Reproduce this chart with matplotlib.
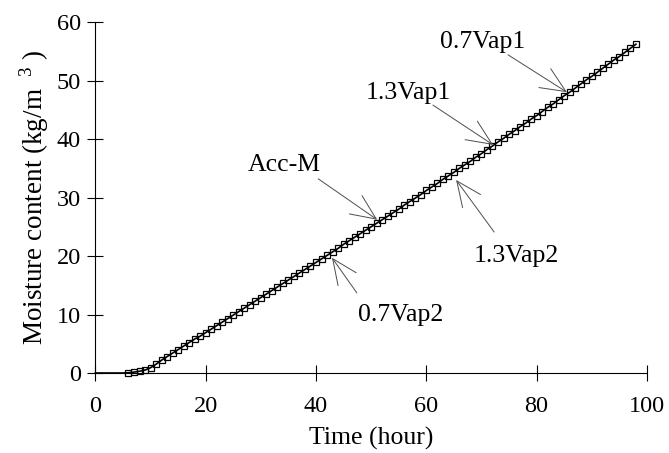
import numpy as np
import matplotlib
matplotlib.use('Agg')
import matplotlib.pyplot as plt

plt.rcParams['font.family'] = ['Liberation Serif', 'DejaVu Serif']
plt.rcParams['mathtext.fontset'] = 'custom'
plt.rcParams['mathtext.rm'] = 'Liberation Serif'

# moisture content, one value per hour
time_h = list(range(0, 99))
moisture = [
    0.0, 0.0, 0.0, 0.0, 0.0, 0.0, 0.05, 0.15, 0.3, 0.5,
    0.9, 1.5, 2.2, 2.8, 3.4, 4.0, 4.6, 5.2, 5.8, 6.3,
    6.9, 7.5, 8.1, 8.7, 9.3, 9.9, 10.5, 11.1, 11.7, 12.3,
    12.9, 13.5, 14.1, 14.7, 15.3, 15.9, 16.5, 17.1, 17.7, 18.3,
    18.9, 19.5, 20.1, 20.7, 21.3, 22.0, 22.6, 23.2, 23.8, 24.4,
    25.0, 25.6, 26.2, 26.8, 27.4, 28.0, 28.7, 29.3, 29.9, 30.5,
    31.2, 31.8, 32.4, 33.1, 33.7, 34.3, 35.0, 35.6, 36.2, 36.9,
    37.5, 38.2, 38.8, 39.5, 40.1, 40.8, 41.4, 42.1, 42.7, 43.4,
    44.0, 44.7, 45.4, 46.0, 46.7, 47.4, 48.0, 48.7, 49.4, 50.1,
    50.7, 51.4, 52.1, 52.8, 53.5, 54.1, 54.8, 55.5, 56.2,
]

labels = ['0.7Vap1', '1.3Vap1', 'Acc-M', '0.7Vap2', '1.3Vap2']
label_xy = [(70.3, 56.6), (56.7, 47.9), (34.2, 35.6), (55.4, 9.9), (76.4, 20.0)]
arrow_tail = [(74.8, 54.4), (61.2, 45.8), (40.4, 33.2), (47.4, 13.7), (72.3, 24.1)]
arrow_tip = [(85.5, 48.0), (72.1, 39.0), (51.1, 26.2), (42.9, 19.7), (65.4, 33.0)]

fig = plt.figure(figsize=(6.69, 4.53), dpi=100)
ax = fig.add_axes([0.1426, 0.1766, 0.967 - 0.1426, 0.9514 - 0.1766])

ax.plot(time_h, moisture, color='black', lw=1.2, marker='s', markersize=4.5,
        markerfacecolor='none', markeredgecolor='black', markeredgewidth=0.9,
        markevery=list(range(6, len(time_h))), clip_on=False)

for txt, pos, tail, tip in zip(labels, label_xy, arrow_tail, arrow_tip):
    ax.text(pos[0], pos[1], txt, fontsize=18.5, ha='center', va='center')
    ax.annotate('', xy=tip, xytext=tail,
                arrowprops=dict(arrowstyle='->,head_length=1.8,head_width=0.8',
                                mutation_scale=10, lw=0.7, color='0.3',
                                shrinkA=0, shrinkB=0))

ax.set_xlim(0, 100)
ax.set_ylim(0, 60)
ax.set_xticks([0, 20, 40, 60, 80, 100])
ax.set_yticks([0, 10, 20, 30, 40, 50, 60])
ax.spines['top'].set_visible(False)
ax.spines['right'].set_visible(False)
ax.tick_params(axis='both', direction='inout', length=11, width=0.8, labelsize=17.5)
ax.tick_params(axis='x', pad=11)
ax.tick_params(axis='y', pad=5)
ax.set_xlabel('Time (hour)', fontsize=18.5, labelpad=7)
ax.set_ylabel(r'Moisture content (kg/m$^{\ \ 3}$ )', fontsize=19.5, labelpad=4)

fig.savefig('out.png', dpi=100)
